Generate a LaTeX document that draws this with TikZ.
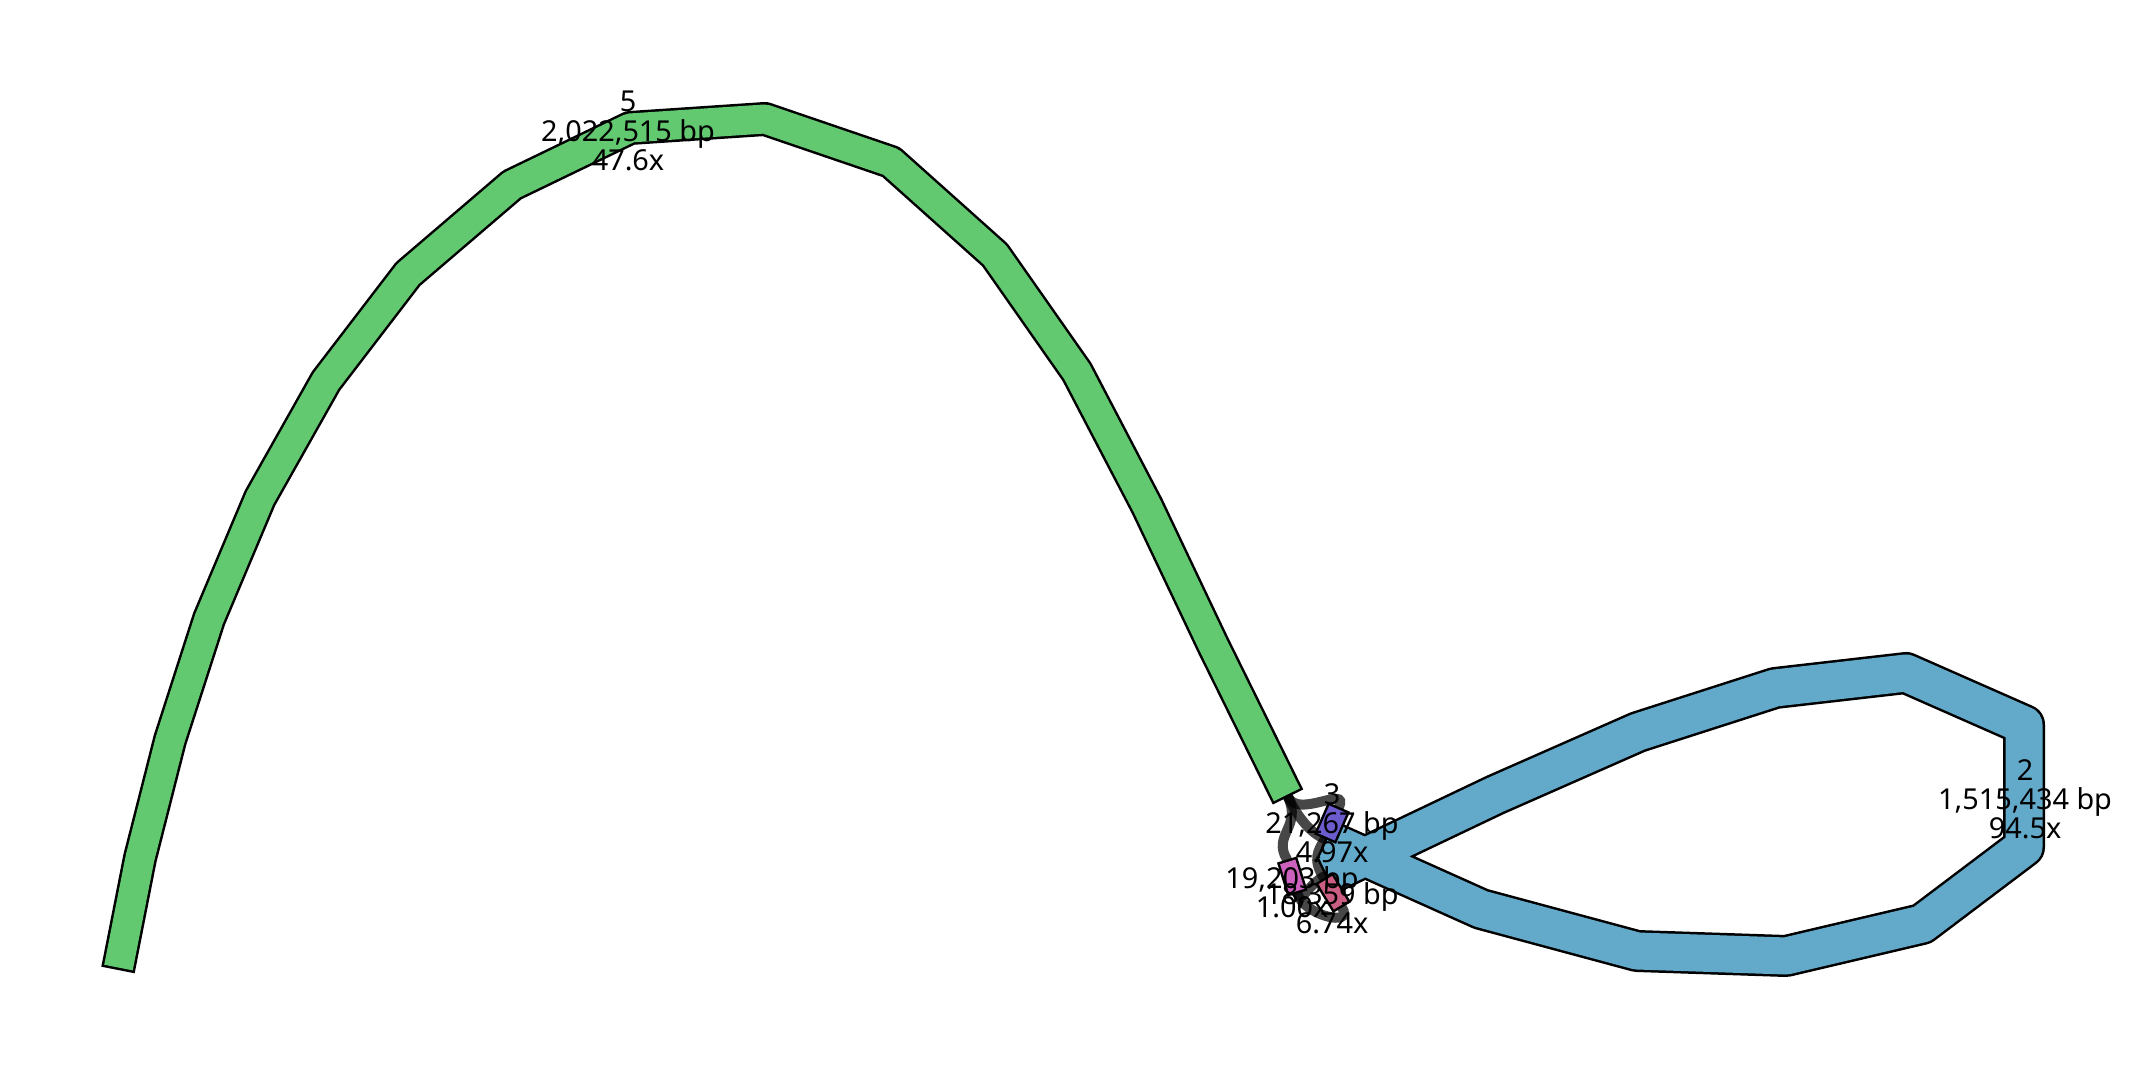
\documentclass[tikz,border=0pt]{standalone}
\usepackage{fontspec}
\setmainfont{Noto Sans}
\definecolor{ngreen}{RGB}{98,201,112}
\definecolor{nblue}{RGB}{99,170,202}
\definecolor{nviolet}{RGB}{106,92,205}
\definecolor{npink}{RGB}{204,98,189}
\definecolor{nred}{RGB}{203,95,131}
\newcommand\ribbon[4]{%
  \draw[line width=#2cm, black, line join=round] #4;
  \draw[line width=#3cm, #1, line join=round, shorten <=0.025cm, shorten >=0.025cm] #4;}
\begin{document}
\begin{tikzpicture}[x=0.01cm,y=-0.01cm,
  lbl/.style={align=center, inner sep=0pt, font=\fontsize{8.2}{8.3}\selectfont},
  edgeline/.style={draw=black, line width=0.1cm, opacity=0.72, line cap=round}]
\useasboundingbox (0,0) rectangle (2146,1080);
% node ends
\coordinate (g5a) at (118,970);
\coordinate (g5b) at (1288,797);
\coordinate (e1) at (1325,839);
\coordinate (e2) at (1325,876);
\coordinate (n3b) at (1325,839);
\coordinate (n3t) at (1339,807);
\coordinate (pkt) at (1287,859.5);
\coordinate (pkb) at (1297.5,893.5);
\coordinate (rdt) at (1324,878);
\coordinate (rdb) at (1342,907.5);
% edges
\draw[edgeline] (g5b) .. controls (1297,816) and (1310,833) .. (e1);
\draw[edgeline] (g5b) .. controls (1299,819) and (1349,784) .. (n3t);
\draw[edgeline] (g5b) .. controls (1302,827) and (1272,835) .. (pkt);
\draw[edgeline] (pkb) .. controls (1303,915) and (1355,928) .. (rdb);
\draw[edgeline] (e2) .. controls (1308,884) and (1301,905) .. (pkb);
\draw[edgeline] (rdt) .. controls (1312,860) and (1318,850) .. (e1);
% node 5 (green)
\ribbon{ngreen}{0.34}{0.29}{(g5a) -- (140,858) -- (170,740) -- (209,619) -- (260,498) -- (326,381) -- (408,274) -- (512,185) -- (630,128) -- (765,119) -- (891,162) -- (995,255) -- (1077,372) -- (1147,506) -- (1213,645) -- (g5b)}
% node 2 (blue)
\ribbon{nblue}{0.42}{0.37}{(e1) -- (1481,909) -- (1637,951) -- (1786,956) -- (1922,924) -- (2024,847) -- (2024,725) -- (1906,673) -- (1775,688) -- (1638,732) -- (1495,795) -- (e2)}
% node 3
\ribbon{nviolet}{0.24}{0.19}{(n3b) -- (n3t)}
% pink node
\ribbon{npink}{0.21}{0.16}{(pkt) -- (pkb)}
% red node
\ribbon{nred}{0.21}{0.16}{(rdt) -- (rdb)}
% labels
\node[lbl] (l5) at (628,131) {5\\2,022,515 bp\\47.6x};
\node[lbl] (l2) at (2025,799) {2\\1,515,434 bp\\94.5x};
\node[lbl] (l3) at (1332,823) {3\\21,267 bp\\4.97x};
\node[lbl] (lpk) at (1292,892) {19,203 bp\\1.00x};
\node[lbl] (lrd) at (1332,908) {18,359 bp\\6.74x};
\end{tikzpicture}
\end{document}
